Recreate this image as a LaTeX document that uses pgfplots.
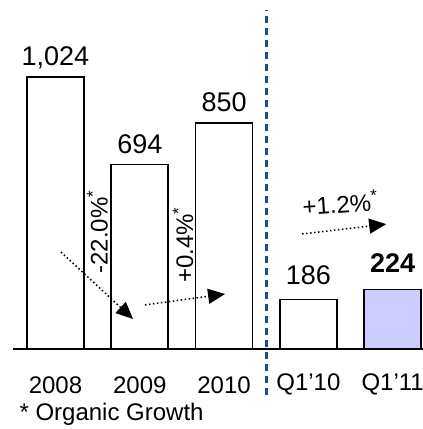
\documentclass[border=0pt]{standalone}
\usepackage{pgfplots}
\pgfplotsset{compat=1.18}
\usepackage{fontspec}
\setmainfont{Liberation Sans}
\usetikzlibrary{arrows.meta}
\definecolor{lav}{HTML}{CCCCFF}
\definecolor{dashblue}{HTML}{1F4E79}

\begin{document}
\begin{tikzpicture}[x=1pt,y=1pt]
\path[use as bounding box] (0,0) rectangle (423,429);
\begin{axis}[
    at={(13pt,80pt)}, anchor=south west,
    scale only axis,
    width=410pt, height=339pt,
    xmin=-0.504, xmax=4.36,
    ymin=0, ymax=1276,
    axis lines=none,
    clip=false,
    ybar, bar width=57pt,
    bar shift=0pt,
]
% values: 2008, 2009, 2010, Q1'10 (white bars)
\addplot[draw=black, line width=1.7pt, fill=white] coordinates {(0,1024) (1,694) (2,850) (3,186)};
% Q1'11 highlighted
\addplot[draw=black, line width=1.7pt, fill=lav] coordinates {(4,224)};

% baseline
\draw[line width=1.2pt] (axis cs:-0.504,0) -- (axis cs:4.36,0);
% period separator
\draw[dashblue, line width=2.6pt, dash pattern=on 7pt off 5pt] (axis cs:2.5,-173) -- (axis cs:2.5,1276);

% value labels
\begin{scope}[font=\fontsize{27}{30}\selectfont]
\node at (axis cs:0,1095) {1,024};
\node at (axis cs:1,770) {694};
\node at (axis cs:2,928) {850};
\node at (axis cs:3,276) {186};
\node at (axis cs:4,322) {\textbf{224}};
\end{scope}

% category labels
\begin{scope}[font=\fontsize{24}{27}\selectfont]
\node at (axis cs:0,-135) {2008};
\node at (axis cs:1,-135) {2009};
\node at (axis cs:2,-135) {2010};
\node at (axis cs:3,-135) {Q1'10};
\node at (axis cs:4,-135) {Q1'11};
\end{scope}

% growth arrows
\tikzset{growth/.style={line width=1.5pt, dash pattern=on 1.5pt off 2.5pt, -{Triangle[length=17pt,width=15pt]}}}
\draw[growth] (axis cs:0.065,365) -- (axis cs:0.92,113);
\draw[growth] (axis cs:1.062,166) -- (axis cs:2.012,207);
\draw[growth] (axis cs:2.926,433) -- (axis cs:3.923,470);

\begin{scope}[font=\fontsize{24}{27}\selectfont]
\node[rotate=90] at (axis cs:0.497,440) {-22.0\%\textsuperscript{*}};
\node[rotate=90] at (axis cs:1.513,391) {+0.4\%\textsuperscript{*}};
\node[rotate=4] at (axis cs:3.377,550) {+1.2\%\textsuperscript{*}};
\end{scope}
\end{axis}
\node[anchor=west, font=\fontsize{24}{27}\selectfont] at (16,15) {* Organic Growth};
\end{tikzpicture}
\end{document}
